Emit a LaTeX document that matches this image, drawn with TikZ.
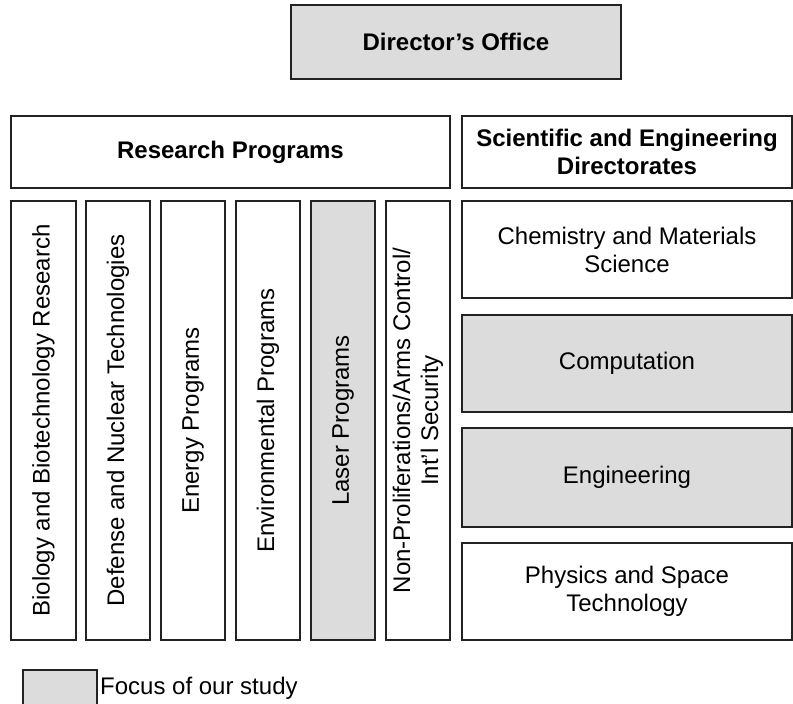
\documentclass[tikz,border=0pt]{standalone}
\usepackage{fontspec}
\setmainfont{Liberation Sans}
\definecolor{focusgray}{HTML}{DCDCDC}
\definecolor{edge}{HTML}{222222}
\begin{document}
\begin{tikzpicture}[x=1bp,y=-1bp,
  box/.style={draw=edge, line width=1.6bp, fill=white, inner sep=0pt, align=center,
    font=\fontsize{24bp}{28bp}\selectfont},
  focus/.style={box, fill=focusgray},
  hdr/.style={font=\fontsize{24bp}{28bp}\selectfont\bfseries},
  vbox/.style={rotate=90, minimum width=439bp, minimum height=64bp},
  rbox/.style={minimum width=330bp, minimum height=97bp}
]
\useasboundingbox (0,0) rectangle (793,704);

\node[focus, hdr, minimum width=330bp, minimum height=74bp] (dir) at (456,42) {Director’s Office};

\node[box, hdr, minimum width=439bp, minimum height=72bp] (rp) at (230.5,152) {Research Programs};
\node[box, hdr, minimum width=330bp, minimum height=72bp] (sed) at (627,152) {Scientific and Engineering\\Directorates};

\node[box, vbox, minimum height=65bp] (bio) at (43.5,420.5) {Biology and Biotechnology Research};
\node[box, vbox] (def) at (118,420.5) {Defense and Nuclear Technologies};
\node[box, vbox] (energy) at (193,420.5) {Energy Programs};
\node[box, vbox] (env) at (268,420.5) {Environmental Programs};
\node[focus, vbox] (laser) at (343,420.5) {Laser Programs};
\node[box, vbox] (npac) at (418,420.5) {Non-Proliferations/Arms Control/\\Int'l Security};

\node[box, rbox] (chem) at (627,249.5) {Chemistry and Materials\\Science};
\node[focus, rbox] (comp) at (627,363.5) {Computation};
\node[focus, rbox, minimum height=99bp] (eng) at (627,477.5) {Engineering};
\node[box, rbox] (phys) at (627,591.5) {Physics and Space\\Technology};

\node[focus, minimum width=74bp, minimum height=37bp] (legbox) at (60,688.5) {};
\node[anchor=west, inner sep=0pt, font=\fontsize{24bp}{28bp}\selectfont] (legtext) at (100,688) {Focus of our study};
\end{tikzpicture}
\end{document}
